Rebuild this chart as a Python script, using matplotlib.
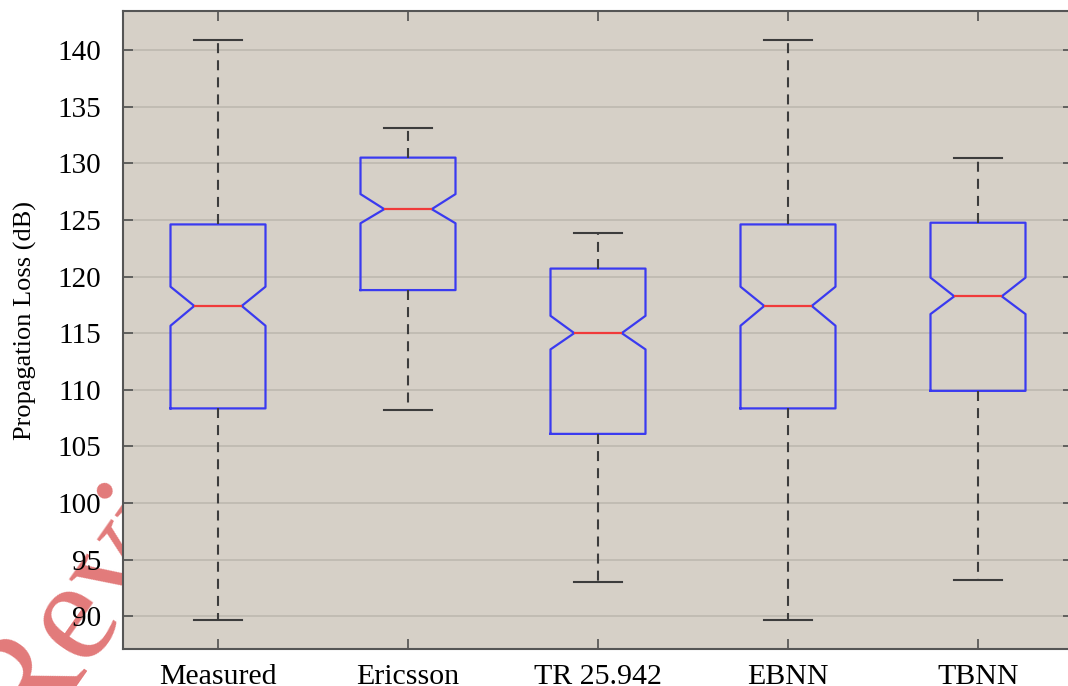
import matplotlib
matplotlib.use('Agg')
import matplotlib.pyplot as plt

# 그림에서 읽은 박스 통계값
labels = ['Measured', 'Ericsson', 'TR 25.942', 'EBNN', 'TBNN']
whis_lo = [89.65, 108.2, 93.0, 89.65, 93.2]
q1 = [108.35, 118.8, 106.1, 108.35, 109.9]
med = [117.4, 125.95, 115.0, 117.4, 118.25]
q3 = [124.6, 130.5, 120.7, 124.6, 124.75]
whis_hi = [140.9, 133.1, 123.85, 140.9, 130.5]
ci_lo = [115.65, 124.7, 113.56, 115.65, 116.68]
ci_hi = [119.1, 127.28, 116.53, 119.1, 119.9]
yticks = [90, 95, 100, 105, 110, 115, 120, 125, 130, 135, 140]

plt.rcParams['font.family'] = ['Liberation Serif', 'DejaVu Serif']

stats = []
for i in range(len(labels)):
    stats.append({'label': labels[i], 'whislo': whis_lo[i], 'q1': q1[i], 'med': med[i],
                  'q3': q3[i], 'whishi': whis_hi[i], 'cilo': ci_lo[i], 'cihi': ci_hi[i],
                  'fliers': []})

fig = plt.figure(figsize=(10.68, 6.86), dpi=100)
ax = fig.add_axes([123 / 1068, 37 / 686, 950 / 1068, 638 / 686])
ax.set_facecolor('#d6d0c7')

ax.bxp(stats, positions=range(1, 6), widths=0.5, shownotches=True, showfliers=False,
       boxprops=dict(color='#3a3af0', linewidth=1.6),
       medianprops=dict(color='#f03a3a', linewidth=1.6),
       whiskerprops=dict(color='#3c3c3c', linewidth=1.5, linestyle=(0, (4.8, 3.4))),
       capprops=dict(color='#3c3c3c', linewidth=1.5))

ax.set_xlim(0.5, 5.5)
ax.set_ylim(87.1, 143.45)
ax.set_yticks(yticks)
ax.set_xticks(range(1, 6))
ax.set_xticklabels(labels)
ax.yaxis.grid(True, color='#bdb8b0', linewidth=1.2)
ax.set_axisbelow(True)

ax.tick_params(axis='y', direction='in', length=7, width=1.2, color='#505050',
               labelsize=21, pad=16, right=True)
ax.tick_params(axis='x', direction='in', length=7, width=1.2, color='#505050',
               labelsize=21.5, pad=11, top=True)
for s in ax.spines.values():
    s.set_color('#555555')
    s.set_linewidth(1.5)

ax.set_ylabel('Propagation Loss (dB)', fontsize=19)
ax.yaxis.set_label_coords(-0.09, 0.515)

# 왼쪽 아래 워터마크 (축 뒤에 가려짐)
fig.text(-0.05, -0.115, 'Review', fontsize=106, color='#e27a7a', rotation=55,
         ha='left', va='bottom', zorder=-1)

fig.savefig('out.png', dpi=100)
